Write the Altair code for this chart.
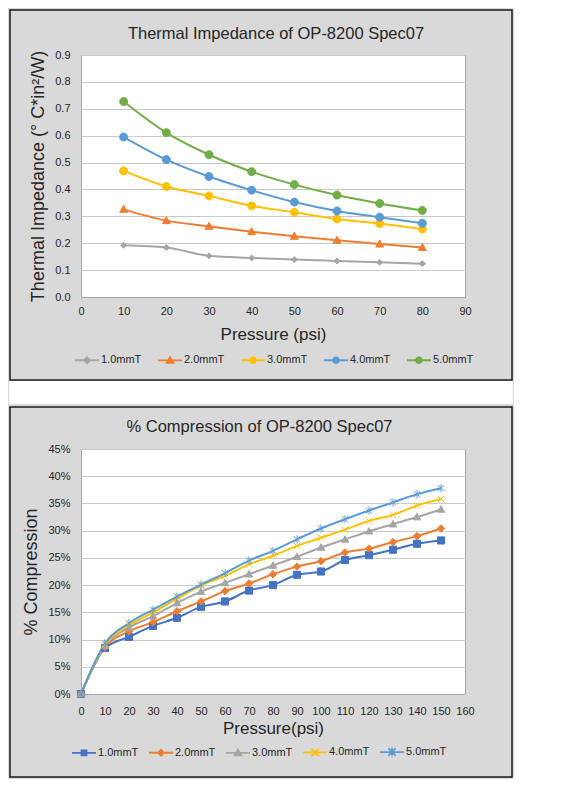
import altair as alt
import pandas as pd

FONT = "Liberation Sans"
TXT = "#262626"

# ---------- data: thermal impedance ----------
ti_pressure = [10, 20, 30, 40, 50, 60, 70, 80]
ti_series = ["1.0mmT", "2.0mmT", "3.0mmT", "4.0mmT", "5.0mmT"]
ti_1 = [0.192, 0.184, 0.153, 0.145, 0.139, 0.134, 0.129, 0.124]
ti_2 = [0.326, 0.284, 0.263, 0.243, 0.226, 0.211, 0.197, 0.184]
ti_3 = [0.469, 0.411, 0.376, 0.339, 0.315, 0.290, 0.273, 0.253]
ti_4 = [0.595, 0.511, 0.448, 0.397, 0.353, 0.320, 0.297, 0.274]
ti_5 = [0.727, 0.611, 0.529, 0.466, 0.418, 0.379, 0.348, 0.322]
ti_colors = ["#A5A5A5", "#ED7D31", "#FFC000", "#5B9BD5", "#70AD47"]
ti_x_ticks = [0, 10, 20, 30, 40, 50, 60, 70, 80, 90]
ti_y_ticks = [0.0, 0.1, 0.2, 0.3, 0.4, 0.5, 0.6, 0.7, 0.8, 0.9]

# ---------- data: compression ----------
cp_pressure = [0, 10, 20, 30, 40, 50, 60, 70, 80, 90, 100, 110, 120, 130, 140, 150]
cp_series = ["1.0mmT", "2.0mmT", "3.0mmT", "4.0mmT", "5.0mmT"]
cp_1 = [0, 8.45, 10.5, 12.5, 14.0, 16.0, 17.0, 19.0, 20.0, 21.9, 22.5, 24.6, 25.5, 26.5, 27.6, 28.2]
cp_2 = [0, 8.6, 11.5, 13.2, 15.2, 17.0, 18.9, 20.3, 22.0, 23.4, 24.4, 26.0, 26.7, 27.9, 29.0, 30.4]
cp_3 = [0, 8.9, 12.2, 14.3, 16.7, 18.8, 20.4, 22.0, 23.6, 25.2, 26.9, 28.4, 29.9, 31.2, 32.5, 33.9]
cp_4 = [0, 9.1, 12.6, 15.0, 17.5, 19.9, 21.7, 23.8, 25.4, 27.2, 28.7, 30.2, 31.8, 32.9, 34.6, 35.8]
cp_5 = [0, 9.3, 13.0, 15.5, 17.9, 20.1, 22.2, 24.5, 26.3, 28.4, 30.4, 32.1, 33.7, 35.2, 36.7, 37.8]
cp_colors = ["#4472C4", "#ED7D31", "#A5A5A5", "#FFC000", "#5B9BD5"]
cp_x_ticks = list(range(0, 161, 10))
cp_y_ticks = [0, 5, 10, 15, 20, 25, 30, 35, 40, 45]

# ---------- marker shapes (unit square paths) ----------
P_CIRCLE = "M1,0A1,1,0,1,1,-1,0A1,1,0,1,1,1,0Z"
P_TRI = "M0,-1L1,0.75L-1,0.75Z"
P_DIAM_S = "M0,-0.75L0.75,0L0,0.75L-0.75,0Z"
P_DIAM = "M0,-1L1,0L0,1L-1,0Z"
P_SQ = "M-0.95,-0.95H0.95V0.95H-0.95Z"
P_X = "M-0.85,-0.85L0.85,0.85M-0.85,0.85L0.85,-0.85"
P_STAR = "M-0.85,-0.85L0.85,0.85M-0.85,0.85L0.85,-0.85M0,-1.1L0,1.1"

# legend symbols: line + small marker
L_LINE = "M-1,0L1,0"
L_CIRCLE = L_LINE + "M0.24,0A0.24,0.24,0,1,1,-0.24,0A0.24,0.24,0,1,1,0.24,0Z"
L_TRI = L_LINE + "M0,-0.28L0.28,0.21L-0.28,0.21Z"
L_DIAM = L_LINE + "M0,-0.24L0.24,0L0,0.24L-0.24,0Z"
L_SQ = L_LINE + "M-0.21,-0.21H0.21V0.21H-0.21Z"
L_X = L_LINE + "M-0.3,-0.3L0.3,0.3M-0.3,0.3L0.3,-0.3"
L_STAR = L_LINE + "M-0.3,-0.3L0.3,0.3M-0.3,0.3L0.3,-0.3M0,-0.36L0,0.36"

ti_shapes = [P_DIAM_S, P_TRI, P_CIRCLE, P_CIRCLE, P_CIRCLE]
ti_leg_shapes = [L_DIAM, L_TRI, L_CIRCLE, L_CIRCLE, L_CIRCLE]
cp_shapes = [P_SQ, P_DIAM, P_TRI, P_X, P_STAR]
cp_leg_shapes = [L_SQ, L_DIAM, L_TRI, L_X, L_STAR]


def long_df(xs, series, values):
    rows = []
    for name, vals in zip(series, values):
        for x, v in zip(xs, vals):
            rows.append({"p": x, "v": v, "series": name, "leg": name})
    return pd.DataFrame(rows)


ti_df = long_df(ti_pressure, ti_series, [ti_1, ti_2, ti_3, ti_4, ti_5])
cp_df = long_df(cp_pressure, cp_series, [cp_1, cp_2, cp_3, cp_4, cp_5])


def panel(df, series, colors, shapes, leg_shapes, xdom, xticks, ydom, yticks,
          ylabel_expr, xtitle, ytitle, title, title_dx, title_offset,
          w, h, box, leg_xy, col_pad, point_size, x_label_pad, x_title_pad,
          gap=0):
    x = alt.X("p:Q", scale=alt.Scale(domain=xdom, nice=False),
              axis=alt.Axis(values=xticks, grid=False, ticks=False, domain=True,
                            domainColor="#A6A6A6", domainWidth=1,
                            labelOverlap=False, labelFlush=False,
                            labelFontSize=11, labelColor=TXT, labelFont=FONT,
                            labelPadding=x_label_pad, title=xtitle,
                            titleFont=FONT, titleFontSize=17,
                            titleFontWeight="normal", titleColor=TXT,
                            titlePadding=x_title_pad))
    y = alt.Y("v:Q", scale=alt.Scale(domain=ydom, nice=False),
              axis=alt.Axis(values=yticks, grid=True, gridColor="#C9C9C9",
                            gridWidth=1, ticks=False, domain=False,
                            labelOverlap=False, labelFlush=False,
                            labelExpr=ylabel_expr, labelFontSize=11,
                            labelColor=TXT, labelFont=FONT, labelPadding=11,
                            title=ytitle, titleFont=FONT, titleFontSize=18,
                            titleFontWeight="normal", titleColor=TXT,
                            titlePadding=7))
    col_scale = alt.Scale(domain=series, range=colors)

    bx0, bx1, by0, by1 = box
    one = pd.DataFrame({"k": [0]})
    layers = []
    if gap:
        layers.append(alt.Chart(one).mark_rect(fill="white", strokeWidth=0).encode(
            x=alt.value(bx0 - 0.75), x2=alt.value(bx1 + 0.75),
            y=alt.value(by1 + 0.75), y2=alt.value(by1 + gap)))
    layers.append(alt.Chart(one).mark_rect(fill="transparent", stroke="#1a1a1a",
                                           strokeWidth=1.5).encode(
        x=alt.value(bx0), x2=alt.value(bx1), y=alt.value(by0), y2=alt.value(by1)))

    lines = alt.Chart(df).mark_line(strokeWidth=2, interpolate="monotone").encode(
        x=x, y=y,
        stroke=alt.Stroke("series:N", scale=col_scale, legend=None),
        detail="series:N")
    pts = alt.Chart(df).mark_point(filled=True, opacity=1, size=point_size,
                                   strokeWidth=1).encode(
        x=x, y=y,
        fill=alt.Fill("series:N", scale=col_scale, legend=None),
        stroke=alt.Stroke("series:N", scale=col_scale, legend=None),
        shape=alt.Shape("series:N", scale=alt.Scale(domain=series, range=shapes),
                        legend=None))
    leg_scale = alt.Scale(domain=series, range=colors)
    leg_def = alt.Legend(title=None, orient="none", legendX=leg_xy[0],
                         legendY=leg_xy[1], direction="horizontal", columns=5,
                         symbolSize=576, symbolStrokeWidth=1.8, labelOffset=1,
                         columnPadding=col_pad, labelFontSize=11,
                         labelFont=FONT, labelColor=TXT)
    leg = alt.Chart(df).transform_filter("false").mark_point(
        filled=True, opacity=1).encode(
        x=x, y=y,
        fill=alt.Fill("leg:N", scale=leg_scale, legend=leg_def),
        stroke=alt.Stroke("leg:N", scale=leg_scale, legend=leg_def),
        shape=alt.Shape("leg:N", scale=alt.Scale(domain=series, range=leg_shapes),
                        legend=leg_def))
    layers += [lines, pts, leg]
    return alt.layer(*layers).resolve_scale(
        fill="independent", stroke="independent", shape="independent"
    ).properties(
        width=w, height=h,
        title=alt.TitleParams(title, font=FONT, fontSize=16.5, fontWeight="normal",
                              color=TXT, anchor="middle", dx=title_dx,
                              offset=title_offset))


top = panel(ti_df, ti_series, ti_colors, ti_shapes, ti_leg_shapes,
            [0, 90], ti_x_ticks, [0, 0.9], ti_y_ticks,
            "format(datum.value, '.1f')", "Pressure (psi)",
            "Thermal Impedance (\u00b0 C*in\u00b2/W)",
            "Thermal Impedance of OP-8200 Spec07", 3, -33,
            384, 242, (-71, 431, -45, 325), (-7, 292), 12, 64, 8, 10, gap=24)

bottom = panel(cp_df, cp_series, cp_colors, cp_shapes, cp_leg_shapes,
               [0, 160], cp_x_ticks, [0, 45], cp_y_ticks,
               "datum.value + '%'", "Pressure(psi)", "% Compression",
               "% Compression of OP-8200 Spec07", -13.5, -29,
               384, 245, (-71, 431, -42, 328), (-10, 290), 6, 56, 11, 4)

chart = alt.concat(top, bottom, columns=1, spacing=0).properties(
    padding=0, background="#D9D9D9",
    autosize=alt.AutoSizeParams(type="pad"),
).configure_view(fill="white", stroke="#A6A6A6", strokeWidth=1)

chart.save("out.html", embed_options={"renderer": "svg", "actions": False})
